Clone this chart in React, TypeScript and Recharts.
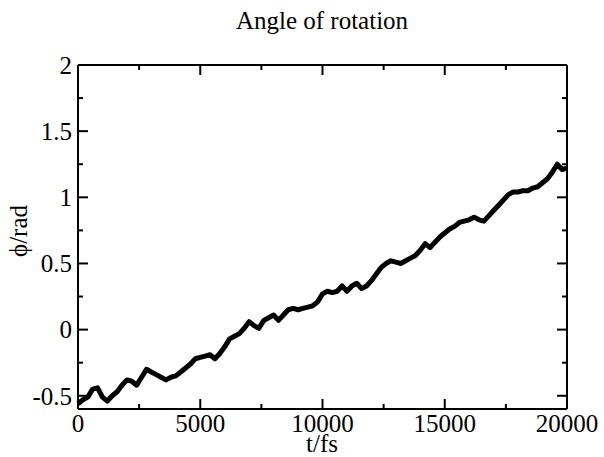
import { LineChart, Line, XAxis, YAxis } from 'recharts';

// sample times (fs)
const times = [
  0, 200, 400, 600, 800, 1000, 1200, 1400, 1600, 1800,
  2000, 2200, 2400, 2600, 2800, 3000, 3200, 3400, 3600, 3800,
  4000, 4200, 4400, 4600, 4800, 5000, 5200, 5400, 5600, 5800,
  6000, 6200, 6400, 6600, 6800, 7000, 7200, 7400, 7600, 7800,
  8000, 8200, 8400, 8600, 8800, 9000, 9200, 9400, 9600, 9800,
  10000, 10200, 10400, 10600, 10800, 11000, 11200, 11400, 11600, 11800,
  12000, 12200, 12400, 12600, 12800, 13000, 13200, 13400, 13600, 13800,
  14000, 14200, 14400, 14600, 14800, 15000, 15200, 15400, 15600, 15800,
  16000, 16200, 16400, 16600, 16800, 17000, 17200, 17400, 17600, 17800,
  18000, 18200, 18400, 18600, 18800, 19000, 19200, 19400, 19600, 19800,
  20000,
];

// angle (rad)
const phi = [
  -0.56, -0.53, -0.51, -0.45, -0.44, -0.51, -0.54, -0.5, -0.47, -0.42,
  -0.38, -0.39, -0.42, -0.36, -0.3, -0.32, -0.34, -0.36, -0.38, -0.36,
  -0.35, -0.32, -0.29, -0.26, -0.22, -0.21, -0.2, -0.19, -0.22, -0.18,
  -0.13, -0.07, -0.05, -0.03, 0.01, 0.06, 0.03, 0.01, 0.07, 0.09,
  0.11, 0.07, 0.11, 0.15, 0.16, 0.15, 0.16, 0.17, 0.18, 0.21,
  0.27, 0.29, 0.28, 0.29, 0.33, 0.29, 0.33, 0.35, 0.31, 0.33,
  0.37, 0.42, 0.47, 0.5, 0.52, 0.51, 0.5, 0.52, 0.54, 0.56,
  0.6, 0.65, 0.62, 0.66, 0.7, 0.73, 0.76, 0.78, 0.81, 0.82,
  0.83, 0.85, 0.83, 0.82, 0.86, 0.9, 0.94, 0.98, 1.02, 1.04,
  1.04, 1.05, 1.05, 1.07, 1.08, 1.11, 1.14, 1.19, 1.25, 1.21,
  1.22,
];

const xTicks = [0, 5000, 10000, 15000, 20000];
const xMinorTicks = [2500, 7500, 12500, 17500];
const yTicks = [-0.5, 0, 0.5, 1, 1.5, 2];
const yMinorTicks = [-0.25, 0.25, 0.75, 1.25, 1.75];

const data = times.map((t, i) => ({ t, phi: phi[i] }));

const xDomain: [number, number] = [0, 20000];
const yDomain: [number, number] = [-0.6, 2];

const font = '"Liberation Serif", "Times New Roman", serif';
const ink = { stroke: '#000', strokeWidth: 2 };

// plot box (matches margin + axis sizes below)
const plot = { left: 78, top: 65, width: 489, height: 344 };
const sx = (t: number) => plot.left + ((t - xDomain[0]) / (xDomain[1] - xDomain[0])) * plot.width;
const sy = (v: number) => plot.top + ((yDomain[1] - v) / (yDomain[1] - yDomain[0])) * plot.height;

const BottomTick = (props: any) => (
  <text x={props.x} y={props.y} dy="0.71em" textAnchor="middle" fontFamily={font} fontSize={25} fill="#000">
    {props.payload.value}
  </text>
);

const LeftTick = (props: any) => (
  <text x={props.x} y={props.y} dy="0.355em" textAnchor="end" fontFamily={font} fontSize={25} fill="#000">
    {props.payload.value}
  </text>
);

// inward ticks on all four sides of the box
function FrameTicks() {
  const bottom = plot.top + plot.height;
  const right = plot.left + plot.width;
  const out: any[] = [];
  const addX = (t: number, len: number) => {
    out.push(<line key={`xb${t}`} x1={sx(t)} x2={sx(t)} y1={bottom} y2={bottom - len} {...ink} />);
    out.push(<line key={`xt${t}`} x1={sx(t)} x2={sx(t)} y1={plot.top} y2={plot.top + len} {...ink} />);
  };
  const addY = (v: number, len: number) => {
    out.push(<line key={`yl${v}`} x1={plot.left} x2={plot.left + len} y1={sy(v)} y2={sy(v)} {...ink} />);
    out.push(<line key={`yr${v}`} x1={right} x2={right - len} y1={sy(v)} y2={sy(v)} {...ink} />);
  };
  xTicks.forEach((t) => addX(t, 10));
  xMinorTicks.forEach((t) => addX(t, 5));
  yTicks.forEach((v) => addY(v, 10));
  yMinorTicks.forEach((v) => addY(v, 5));
  return <g>{out}</g>;
}

export default function App() {
  return (
    <div style={{ position: 'absolute', left: 0, top: 0, background: '#fff' }}>
      <LineChart
        width={604}
        height={457}
        data={data}
        margin={{ top: 35, right: 7, bottom: 18, left: 38 }}
      >
        <XAxis dataKey="t" type="number" domain={xDomain} ticks={xTicks} interval={0}
          height={30} tickSize={0} tickMargin={5} tickLine={false} axisLine={ink} tick={<BottomTick />} />
        <XAxis xAxisId="top" orientation="top" dataKey="t" type="number" domain={xDomain} ticks={xTicks}
          interval={0} height={30} tickLine={false} axisLine={ink} tick={false} />
        <YAxis type="number" domain={yDomain} ticks={yTicks} interval={0}
          width={40} tickSize={0} tickMargin={6} tickLine={false} axisLine={ink} tick={<LeftTick />} />
        <YAxis yAxisId="right" orientation="right" type="number" domain={yDomain} ticks={yTicks}
          interval={0} width={30} tickLine={false} axisLine={ink} tick={false} />

        <Line
          dataKey="phi"
          type="linear"
          stroke="#000"
          strokeWidth={5}
          strokeLinejoin="round"
          dot={false}
          isAnimationActive={false}
        />

        <FrameTicks />

        <text x={322} y={29} textAnchor="middle" fontFamily={font} fontSize={25} fill="#000">
          Angle of rotation
        </text>
        <text x={322} y={452} textAnchor="middle" fontFamily={font} fontSize={25} fill="#000">
          t/fs
        </text>
        <text x={27} y={231} textAnchor="middle" fontFamily={font} fontSize={25} fill="#000"
          transform="rotate(-90, 27, 231)">
          ϕ/rad
        </text>
      </LineChart>
    </div>
  );
}
